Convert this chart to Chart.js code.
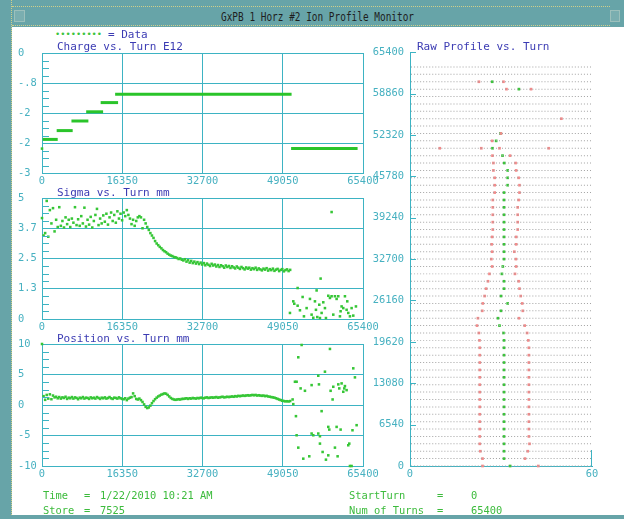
<!DOCTYPE html>
<html>
<head>
<meta charset="utf-8">
<script src="https://cdn.jsdelivr.net/npm/chart.js@4.4.1/dist/chart.umd.min.js"></script>
<style>
  html, body { margin: 0; padding: 0; }
  body { width: 624px; height: 519px; position: relative; overflow: hidden; background: #ffffff;
         font-family: 'DejaVu Sans Mono', 'Liberation Mono', monospace; }
  canvas { position: absolute; }
  .t { position: absolute; white-space: pre; line-height: 1; transform: translateY(-50%); }
  .title { font-size: 11px; color: #3b3bb3; }
  .foot { font-size: 10.4px; color: #3cbb3c; }
  .band { position: absolute; background: #67a4a8; }
</style>
</head>
<body>
<!-- window frame -->
<div class="band" style="left:0;top:0;width:624px;height:27px;"></div>
<div style="position:absolute;left:12px;top:6px;width:598px;height:18px;border-top:1px dotted #cfcf8a;border-bottom:1px dotted #cfcf8a;"></div>
<div style="position:absolute;left:14px;top:10px;width:9px;height:10px;background:#7aaeb0;border:1px solid #9cc0bc;"></div>
<div style="position:absolute;left:610px;top:10px;width:8px;height:10px;background:#7aaeb0;border:1px solid #9cc0bc;"></div>
<div class="band" style="left:0;top:0;width:11px;height:519px;border-right:1px dotted #cfcf8a;"></div>
<div class="band" style="left:0;top:515px;width:624px;height:4px;"></div>
<div class="t" style="left:221px;top:18px;font-size:11.5px;color:#1e1e1e;transform:translateY(-50%) scaleX(0.82);transform-origin:left center;">GxPB 1 Horz #2 Ion Profile Monitor</div>

<canvas id="chargeChart" width="372" height="150" style="left:12px;top:40px;"></canvas>
<canvas id="sigmaChart" width="372" height="150" style="left:12px;top:186px;"></canvas>
<canvas id="positionChart" width="372" height="151" style="left:12px;top:332px;"></canvas>
<canvas id="rawChart" width="250" height="443" style="left:362px;top:40px;"></canvas>

<div class="t" style="left:55px;top:34px;font-size:8.7px;color:#3cc43c;">•••••••••</div>
<div class="t title" style="left:108px;top:34px;">= Data</div>
<div class="t title" style="left:57px;top:46px;">Charge vs. Turn E12</div>
<div class="t title" style="left:57px;top:192px;">Sigma vs. Turn mm</div>
<div class="t title" style="left:57px;top:338px;">Position vs. Turn mm</div>
<div class="t title" style="left:417px;top:46px;">Raw Profile vs. Turn</div>

<div class="t foot" style="left:43px;top:495px;">Time</div>
<div class="t foot" style="left:84px;top:495px;">=</div>
<div class="t foot" style="left:100px;top:495px;">1/22/2010 10:21 AM</div>
<div class="t foot" style="left:43px;top:510px;">Store</div>
<div class="t foot" style="left:84px;top:510px;">=</div>
<div class="t foot" style="left:100px;top:510px;">7525</div>
<div class="t foot" style="left:349px;top:495px;">StartTurn</div>
<div class="t foot" style="left:437px;top:495px;">=</div>
<div class="t foot" style="left:471px;top:495px;">0</div>
<div class="t foot" style="left:349px;top:510px;">Num of Turns</div>
<div class="t foot" style="left:437px;top:510px;">=</div>
<div class="t foot" style="left:471px;top:510px;">65400</div>

<script>
// ---- axis ticks ----
const turnTicks = [0, 16350, 32700, 49050, 65400];
const turnTickLabels = ['0', '16350', '32700', '49050', '65400'];
const chargeTicks = [-3, -2.25, -1.5, -0.75, 0];
const chargeTickLabels = ['-3', '-2', '-2', '-.8', '0'];
const sigmaTicks = [0, 1.25, 2.5, 3.75, 5];
const sigmaTickLabels = ['0', '1.3', '2.5', '3.7', '5'];
const positionTicks = [-10, -5, 0, 5, 10];
const positionTickLabels = ['-10', '-5', '0', '5', '10'];
const rawTurnTicks = [0, 6540, 13080, 19620, 26160, 32700, 39240, 45780, 52320, 58860, 65400];
const rawTurnTickLabels = ['0', '6540', '13080', '19620', '26160', '32700', '39240', '45780', '52320', '58860', '65400'];
const rawChannelTicks = [0, 60];
const rawChannelTickLabels = ['0', '60'];

// ---- charge (E12) : intensity steps ----
const chargeStepStart = [136, 2990, 6000, 9000, 11950, 14900, 50750];
const chargeStepEnd   = [3200, 6250, 9450, 12450, 15500, 50850, 64300];
const chargeStepValue = [-2.16, -1.94, -1.70, -1.47, -1.24, -1.03, -2.39];
const chargeDotTurns  = [0];
const chargeDotValues = [-2.39];

// ---- sigma (mm) sampled every bandTurnStep turns while beam is stored ----
const bandTurnStep = 320;
const sigmaBand = [
  4.17,3.45,3.55,4.88,3.40,4.50,3.95,4.58,3.62,4.10,
  3.80,4.62,3.85,4.05,3.78,4.20,3.92,4.10,3.80,4.15,
  3.98,4.62,3.88,4.12,3.85,4.25,3.95,4.60,3.82,4.10,
  3.90,4.22,3.78,4.05,4.30,4.55,3.88,4.15,3.95,4.28,
  4.02,4.35,3.90,4.20,4.40,4.05,4.30,3.98,4.45,4.15,
  4.35,4.08,4.40,4.25,4.50,4.30,4.15,3.92,4.10,3.85,
  4.05,4.20,4.25,4.20,3.75,4.10,3.95,3.80,3.68,3.55,
  3.45,3.35,3.22,3.12,3.05,2.98,2.92,2.85,2.80,2.76,
  2.70,2.66,2.62,2.60,2.56,2.55,2.52,2.48,2.50,2.45,
  2.42,2.47,2.37,2.43,2.33,2.40,2.31,2.37,2.29,2.35,
  2.27,2.33,2.25,2.31,2.22,2.29,2.24,2.19,2.28,2.21,
  2.25,2.17,2.23,2.15,2.22,2.18,2.12,2.21,2.15,2.19,
  2.11,2.18,2.13,2.09,2.17,2.12,2.07,2.15,2.10,2.05,
  2.13,2.08,2.12,2.04,2.10,2.06,2.12,2.03,2.09,2.05,
  2.01,2.08,2.04,2.10,2.00,2.06,2.02,2.08,1.99,2.04,
  2.07,1.98,2.03,2.06,1.97,2.02,2.05,1.98,2.03
];
// after beam loss the fit returns scattered values
const sigmaLateTurns = [50518,51196,51400,52080,52080,52555,53098,53370,53913,54592,54931,55270,55610,55814,
  55950,56085,56493,56629,56765,56968,57308,57647,57851,58326,58666,59005,59005,59345,59684,60024,60364,60703,
  60839,61043,61382,61721,62061,62196,62400,62740,63079,63418,63962];
const sigmaLateValues = [0.25,0.73,0.63,0.55,1.28,0.36,0.91,0.11,0.45,0.83,0.18,0.05,0.73,0.38,
  1.18,0.08,0.59,0.04,1.67,0.25,0.69,0.45,0.04,0.96,0.87,4.42,0.94,0.18,0.94,0.83,0.94,0.11,
  0.32,0.52,0.45,0.94,0.38,0.73,0.25,0.11,0.45,0.14,0.52];

// ---- position (mm) ----
const positionBand = [
  10.0,1.45,0.85,1.65,1.05,1.75,0.95,1.55,1.25,1.35,
  1.10,1.30,1.05,1.25,1.15,1.35,1.00,1.20,1.10,1.30,
  1.05,1.25,1.15,0.95,1.20,1.10,1.30,1.05,1.20,1.15,
  1.00,1.25,1.10,1.20,1.05,1.30,1.15,1.00,1.20,1.10,
  1.25,1.05,1.15,1.30,1.10,1.00,1.20,1.15,1.05,1.25,
  1.10,1.00,0.95,1.10,0.80,1.05,1.20,1.30,1.90,1.45,
  1.00,0.90,1.05,0.80,0.50,0.10,-0.30,-0.50,-0.40,-0.10,
  0.30,0.65,0.95,1.20,1.40,1.55,1.70,1.80,1.90,1.85,
  1.65,1.40,1.15,1.00,0.90,0.85,0.90,0.95,0.90,1.00,
  1.00,1.05,1.10,1.00,1.10,1.05,1.15,1.10,1.05,1.15,
  1.10,1.20,1.15,1.10,1.20,1.25,1.15,1.20,1.25,1.20,
  1.25,1.30,1.20,1.25,1.30,1.35,1.25,1.30,1.35,1.30,
  1.35,1.40,1.35,1.45,1.40,1.50,1.45,1.50,1.55,1.50,
  1.55,1.60,1.55,1.60,1.65,1.60,1.65,1.55,1.60,1.55,
  1.50,1.55,1.45,1.50,1.40,1.35,1.30,1.25,1.20,1.10,
  1.00,0.90,0.80,0.70,0.65,0.60,0.62,0.58,0.65
];
const positionLateTurns = [51060,51196,51536,51876,51740,51876,52215,52215,52895,52690,53234,53574,54455,54931,
  55270,54931,56289,56425,56968,56629,57172,57647,57851,58326,58666,58802,59209,59345,59684,60024,58326,58530,
  60228,60364,60567,60839,61043,61382,61586,61721,62061,62400,62604,62740,63079,63258,63418,63758,64099,56289,56629];
const positionLateValues = [0.91,0.14,3.81,3.81,-1.83,-4.96,7.82,-6.99,9.84,2.72,-8.80,2.33,-8.41,3.26,
  -4.96,-4.68,4.80,3.38,-1.01,-6.33,-7.70,5.46,-8.96,-8.25,9.19,2.33,0.91,2.99,-6.99,-3.59,-3.59,-4.03,
  -8.41,3.38,2.72,-4.03,3.54,2.17,2.72,3.10,2.44,-6.60,-6.33,-10.0,-10.0,-4.14,6.01,4.53,-3.31,-4.68,-5.12];

// ---- raw profile: one trace of 60 channels per row of turns ----
const rawRowTurns = [0,1168,2336,3504,4672,5840,7008,8176,9344,10512,11680,12848,14016,15184,16352,17520,18688,
  19856,21024,22192,23360,24528,25696,26864,28032,29200,30368,31536,32704,33872,35040,36208,37376,38544,39712,
  40880,42048,43216,44384,45552,46720,47888,49056,50224,51392,52560,53728,54896,56064,57232,58400,59568,60736,
  61904,63072];
const rawChannels = Array.from({ length: 60 }, (_, i) => i + 0.5);
// fitted mean (green) and +/- sigma edges (red), in channels
const rawLeftEdge = [23.9,23.9,23.2,23.0,23.0,23.0,23.0,23.0,23.0,23.0, 23.0,23.0,23.0,23.0,23.0,23.0,23.0,22.9,22.7,22.1,
  22.4,23.8,24.0,24.6,25.1,25.7,26.2,27.1,26.8,27.1, 26.9,27.1,27.3,27.3,27.3,27.3,27.3,27.9,27.9,27.9,
  27.5,27.5,27.2,23.5,27.1,30.0,null,null,null,null, null,31.8,22.7,null,null];
const rawCenter = [33.0,31.0,31.0,31.0,31.0,31.0,31.0,31.0,31.0,31.0, 31.0,31.0,31.0,31.0,31.0,31.0,31.0,31.0,30.8,29.5,
  29.0,30.0,32.2,30.0,31.0,31.0,30.3,30.6,31.0,31.0, 31.0,31.0,31.0,31.0,31.0,31.0,31.0,31.0,32.2,32.2,
  32.2,31.1,30.5,27.2,28.4,29.8,null,null,null,null, null,35.9,27.1,null,null];
const rawRightEdge = [42.3,37.9,38.8,39.4,39.2,39.2,39.2,39.2,39.2,39.2, 39.2,39.2,39.2,39.2,39.2,39.2,39.2,39.0,38.6,37.8,
  35.9,37.2,37.0,36.5,36.1,35.8,34.6,35.0,34.9,34.4, 35.0,35.0,35.5,35.5,35.5,35.5,35.8,36.1,36.1,35.8,
  35.0,34.8,33.0,29.5,null,null,null,null,null,null, null,39.9,30.8,null,null];
const rawStrayEdgeTurns = [50224, 50224, 54896];
const rawStrayEdgeChannels = [9.8, 45.7, 49.9];

// ---- styling ----
const GRID = '#3db3c3';
const LABEL = '#47b1c1';
const GREEN = '#36c636';
const tickFont = { family: 'DejaVu Sans Mono', size: 10.4 };

const fixedTicks = values => scale => { scale.ticks = values.map(v => ({ value: v })); };
const subdivide = (major, parts) => {
  const out = [];
  for (let i = 0; i < major.length - 1; i++)
    for (let j = 1; j < parts; j++) out.push(major[i] + (major[i + 1] - major[i]) * j / parts);
  return out;
};

// short tick marks drawn inward from the plot edges
const innerTicks = {
  id: 'innerTicks',
  afterDatasetsDraw(chart, args, opts) {
    const ctx = chart.ctx, a = chart.chartArea;
    ctx.save();
    ctx.strokeStyle = opts.color || GRID;
    ctx.lineWidth = 1;
    ctx.beginPath();
    (opts.y || []).forEach(spec => spec.values.forEach(v => {
      const p = Math.round(chart.scales.y.getPixelForValue(v)) + 0.5;
      ctx.moveTo(a.left, p); ctx.lineTo(a.left + spec.len, p);
    }));
    (opts.x || []).forEach(spec => spec.values.forEach(v => {
      const p = Math.round(chart.scales.x.getPixelForValue(v)) - 0.5;
      ctx.moveTo(p, a.bottom); ctx.lineTo(p, a.bottom - spec.len);
    }));
    ctx.stroke();
    ctx.restore();
  }
};

const pts = (xs, ys) => xs.map((x, i) => ({ x, y: ys[i] }));
const bandPts = vals => vals.map((v, i) => ({ x: i * bandTurnStep, y: v }));

function turnAxis() {
  return {
    type: 'linear', min: 0, max: 65400,
    afterBuildTicks: fixedTicks(turnTicks),
    afterFit: s => { s.height = 17; },
    ticks: { color: LABEL, font: tickFont, padding: 2, maxRotation: 0, autoSkip: false,
             callback: (v, i) => turnTickLabels[i] },
    grid: { color: GRID, lineWidth: 1, drawTicks: false },
    border: { color: GRID, width: 1 }
  };
}
function valueAxis(min, max, ticks, labels) {
  return {
    type: 'linear', min, max,
    afterBuildTicks: fixedTicks(ticks),
    afterFit: s => { s.width = 24; },
    ticks: { color: LABEL, font: tickFont, padding: 0, crossAlign: 'far', autoSkip: false,
             callback: (v, i) => labels[i] },
    grid: { color: GRID, lineWidth: 1, drawTicks: false },
    border: { color: GRID, width: 1 }
  };
}
function leftPanel(id, datasets, yAxis, majors, top) {
  return new Chart(document.getElementById(id), {
    type: 'scatter',
    data: { datasets },
    options: {
      responsive: false, animation: false, devicePixelRatio: 1,
      layout: { padding: { left: 6, top: top, right: 21, bottom: 0 } },
      scales: { x: turnAxis(), y: yAxis },
      plugins: { legend: { display: false }, tooltip: { enabled: false },
                 innerTicks: { color: GRID, y: [{ values: subdivide(majors, 4), len: 7 }] } }
    },
    plugins: [innerTicks]
  });
}
const dotSet = data => ({ data, showLine: false, pointStyle: 'rect', pointRadius: 1.8,
  backgroundColor: GREEN, borderWidth: 0, clip: false });

// Charge
const chargeSets = chargeStepStart.map((s, i) => ({
  data: [{ x: s, y: chargeStepValue[i] }, { x: chargeStepEnd[i], y: chargeStepValue[i] }],
  showLine: true, borderColor: '#2ac42a', borderWidth: 3, pointRadius: 0, borderCapStyle: 'butt'
}));
chargeSets.push(dotSet(pts(chargeDotTurns, chargeDotValues)));
leftPanel('chargeChart', chargeSets, valueAxis(-3, 0, chargeTicks, chargeTickLabels), chargeTicks, 13);

// Sigma
leftPanel('sigmaChart', [dotSet(bandPts(sigmaBand)), dotSet(pts(sigmaLateTurns, sigmaLateValues))],
  valueAxis(0, 5, sigmaTicks, sigmaTickLabels), sigmaTicks, 12);

// Position
leftPanel('positionChart', [dotSet(bandPts(positionBand)), dotSet(pts(positionLateTurns, positionLateValues))],
  valueAxis(-10, 10, positionTicks, positionTickLabels), positionTicks, 12);

// Raw profile
const traceDots = [];
rawRowTurns.forEach(t => rawChannels.forEach(c => traceDots.push({ x: c, y: t })));
const edgeDots = [];
rawRowTurns.forEach((t, k) => {
  if (rawLeftEdge[k] !== null) edgeDots.push({ x: rawLeftEdge[k], y: t });
  if (rawRightEdge[k] !== null) edgeDots.push({ x: rawRightEdge[k], y: t });
});
rawStrayEdgeTurns.forEach((t, i) => edgeDots.push({ x: rawStrayEdgeChannels[i], y: t }));
const centerDots = [];
rawRowTurns.forEach((t, k) => { if (rawCenter[k] !== null) centerDots.push({ x: rawCenter[k], y: t }); });

new Chart(document.getElementById('rawChart'), {
  type: 'scatter',
  data: { datasets: [
    { data: traceDots, pointStyle: 'rect', pointRadius: 0.7, backgroundColor: '#a2a2a2', borderWidth: 0, clip: false },
    { data: edgeDots, pointStyle: 'rect', pointRadius: 1.9, backgroundColor: '#f28a8a', borderWidth: 0, clip: false },
    { data: centerDots, pointStyle: 'rect', pointRadius: 1.9, backgroundColor: '#3cc43c', borderWidth: 0, clip: false }
  ] },
  options: {
    responsive: false, animation: false, devicePixelRatio: 1,
    layout: { padding: { left: 0, top: 12, right: 20, bottom: 0 } },
    scales: {
      x: { type: 'linear', min: 0, max: 60,
           afterBuildTicks: fixedTicks(rawChannelTicks),
           afterFit: s => { s.height = 17; },
           ticks: { color: LABEL, font: tickFont, padding: 2, maxRotation: 0, autoSkip: false,
                    callback: (v, i) => rawChannelTickLabels[i] },
           grid: { display: true, drawOnChartArea: false, drawTicks: false },
           border: { color: GRID, width: 1 } },
      y: { type: 'linear', min: 0, max: 65400,
           afterBuildTicks: fixedTicks(rawTurnTicks),
           afterFit: s => { s.width = 48; },
           ticks: { color: LABEL, font: tickFont, padding: 6, crossAlign: 'near', autoSkip: false,
                    callback: (v, i) => rawTurnTickLabels[i] },
           grid: { display: true, drawOnChartArea: false, drawTicks: false },
           border: { color: GRID, width: 1 } }
    },
    plugins: { legend: { display: false }, tooltip: { enabled: false },
               innerTicks: { color: GRID, y: [{ values: rawTurnTicks, len: 6 }], x: [{ values: [60], len: 16 }] } }
  },
  plugins: [innerTicks]
});
</script>
</body>
</html>
